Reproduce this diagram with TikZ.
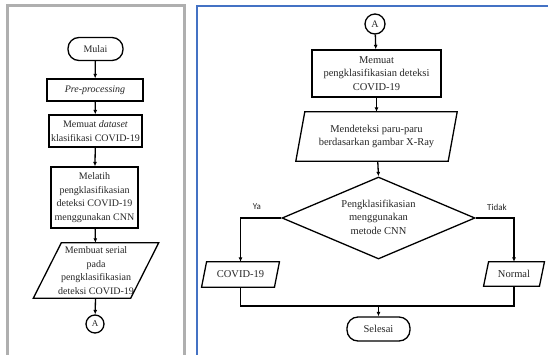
\documentclass[tikz,border=0pt]{standalone}
\usepackage{fontspec}
\setmainfont{Liberation Serif}
\newfontfamily\labelfont{Carlito}
\usetikzlibrary{shapes.geometric,arrows.meta}
\definecolor{panelblue}{RGB}{68,114,196}
\definecolor{panelgray}{RGB}{175,175,175}
\begin{document}
\begin{tikzpicture}[x=1pt,y=-1pt,
  every node/.style={font=\fontsize{10}{13.5}\selectfont, align=center, inner sep=0pt, text=black!85},
  box/.style={draw, line width=1.3pt, minimum width=#1},
  term/.style={draw, line width=1.3pt, rounded corners=11pt, minimum height=23pt},
  conn/.style={draw, circle, line width=1.3pt},
  para/.style={minimum width=#1},
  flow/.style={line width=1.3pt, -{Latex[length=4.5pt,width=4pt]}},
  line/.style={line width=1.3pt},
  rt/.style={font=\fontsize{10.5}{13.5}\selectfont},
  yn/.style={font=\labelfont\fontsize{9}{10}\selectfont}
]
\path[use as bounding box, clip] (0,0) rectangle (548,354);
\fill[white] (0,0) rectangle (548,354);
% panels
\draw[panelgray, line width=3pt] (7.5,370) -- (7.5,5.5) -- (184,5.5) -- (184,370);
\draw[panelblue, line width=2pt] (197,370) -- (197,6) -- (560,6);

% ---------- left flowchart ----------
\node[term, minimum width=55pt] (mulai) at (95.5,49) {Mulai};
\node[box=96pt, minimum height=22pt] (pre) at (95,90) {\itshape Pre-processing};
\node[box=93pt, minimum height=32pt] (dataset) at (95.5,131) {Memuat \textit{dataset}\\klasifikasi COVID-19};
\node[box=87pt, minimum height=61pt] (melatih) at (94.5,197.5) {Melatih\\pengklasifikasian\\deteksi COVID-19\\menggunakan CNN};
\node[para=97pt, minimum height=55pt] (serial) at (96,270.5) {Membuat serial\\pada\\pengklasifikasian\\deteksi COVID-19};
\draw[line] ([xshift=14pt]serial.north west) -- ([xshift=14pt]serial.north east)
  -- ([xshift=-14pt]serial.south east) -- ([xshift=-14pt]serial.south west) -- cycle;
\node[conn, minimum size=18pt, font=\fontsize{9}{10}\selectfont] (al) at (95,324) {A};

\draw[flow] (mulai) -- (pre);
\draw[flow] (pre) -- (dataset);
\draw[flow] (dataset) -- (melatih);
\draw[flow] (melatih) -- (serial);
\draw[flow] (serial) -- (al);

% ---------- right flowchart ----------
\node[conn, minimum size=20pt, font=\fontsize{10}{11}\selectfont] (ar) at (375,24) {A};
\node[box=129pt, minimum height=47pt, rt] (memuat) at (376.5,73.5) {Memuat\\pengklasifikasian deteksi\\COVID-19};
\node[para=152pt, minimum height=49pt, rt] (deteksi) at (376.5,136.5) {Mendeteksi paru-paru\\berdasarkan gambar X-Ray};
\draw[line] ([xshift=4.5pt]deteksi.north west) -- ([xshift=4.5pt]deteksi.north east)
  -- ([xshift=-4.5pt]deteksi.south east) -- ([xshift=-4.5pt]deteksi.south west) -- cycle;
\node[draw, diamond, line width=1.3pt, minimum width=193pt, minimum height=82pt] (dec) at (378.5,218) {};
\node[rt] (dectext) at (378.5,217) {Pengklasifikasian\\menggunakan\\metode CNN};
\node[yn] (ya) at (257,207) {Ya};
\node[yn] (tidak) at (497,207) {Tidak};
\node[para=72.5pt, minimum height=25pt, rt] (covid) at (240.5,274.5) {COVID-19};
\draw[line] ([xshift=2.5pt]covid.north west) -- ([xshift=2.5pt]covid.north east)
  -- ([xshift=-2.5pt]covid.south east) -- ([xshift=-2.5pt]covid.south west) -- cycle;
\node[para=55.5pt, minimum height=24pt, rt] (normal) at (514,274) {Normal};
\draw[line] ([xshift=2.5pt]normal.north west) -- ([xshift=2.5pt]normal.north east)
  -- ([xshift=-2.5pt]normal.south east) -- ([xshift=-2.5pt]normal.south west) -- cycle;
\node[term, minimum width=63pt, minimum height=24pt, rt] (selesai) at (378.5,329) {Selesai};
\coordinate (merge) at (378.5,306);

\draw[flow] (ar) -- (memuat);
\draw[flow] (memuat) -- (deteksi);
\draw[flow] (deteksi) -- (dec.north);
\draw[flow] (dec.west) -| (covid.north);
\draw[flow] (dec.east) -| (normal.north);
\draw[line] (covid.south) |- (merge) -| (normal.south);
\draw[flow] (merge) -- (selesai);
\end{tikzpicture}
\end{document}
